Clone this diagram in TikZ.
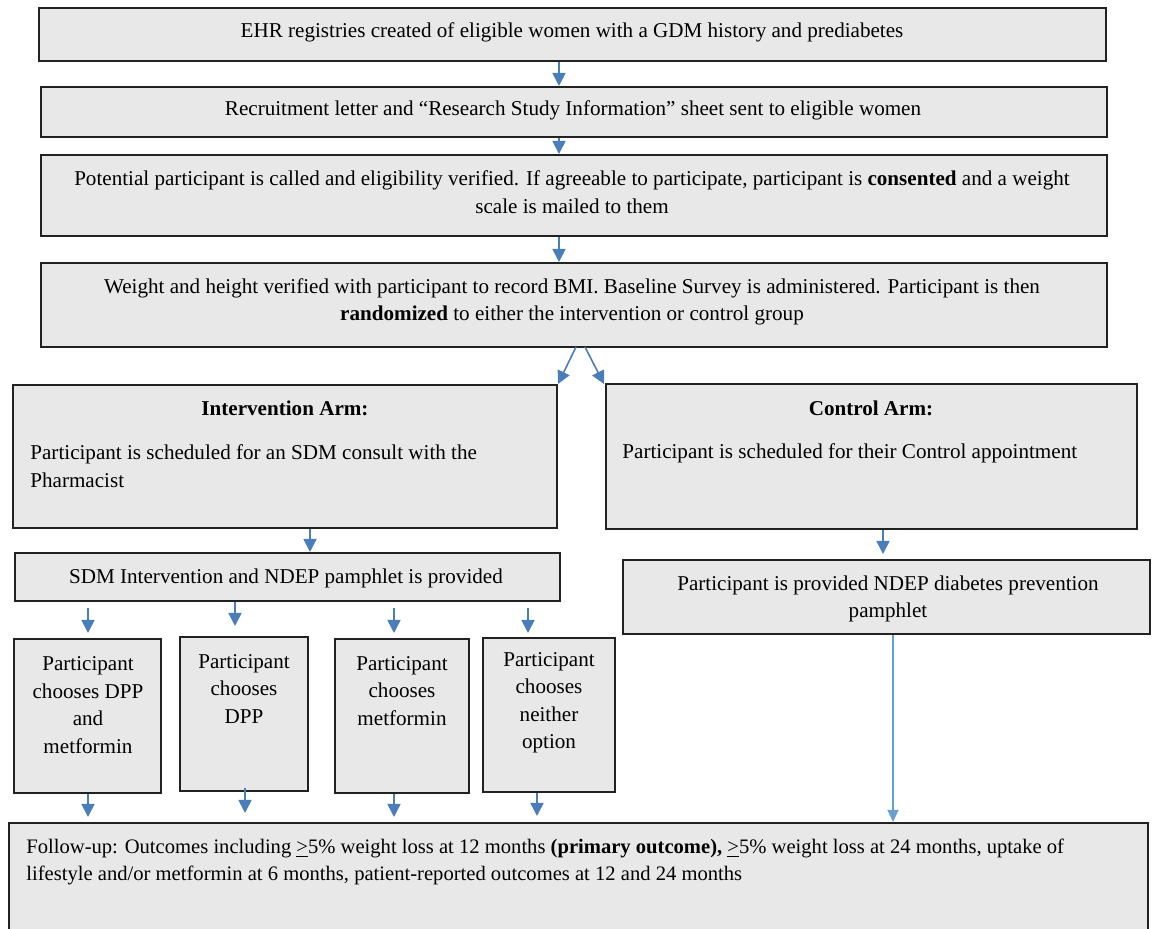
\documentclass[tikz,border=0pt]{standalone}
\usepackage{fontspec}
\setmainfont{Liberation Serif}
\usetikzlibrary{arrows.meta,fit}
\definecolor{boxfill}{HTML}{E8E8E8}
\definecolor{boxline}{HTML}{222222}
\definecolor{arrblue}{HTML}{4A7EBB}
\definecolor{lineblue}{HTML}{6A9FD4}
\begin{document}
\begin{tikzpicture}[x=0.5pt,y=-0.5pt,
  box/.style={draw=boxline, line width=1pt, fill=boxfill, inner sep=0pt},
  txt/.style={inner sep=0pt, align=center, font=\fontsize{10.55}{13.75}\selectfont},
  ltxt/.style={inner sep=0pt, align=left, anchor=west, font=\fontsize{10.55}{14}\selectfont},
  futxt/.style={inner sep=0pt, align=left, anchor=west, font=\fontsize{10.3}{13.5}\selectfont},
  arr/.style={draw=arrblue, line width=0.8pt, -{Triangle[length=6.5pt,width=6.5pt]}},
  thinarr/.style={draw=lineblue, line width=0.6pt, -{Triangle[length=6pt,width=5.5pt]}}]
\clip (0,0) rectangle (1153,929);
\fill[white] (0,0) rectangle (1153,929);
% boxes
\node[box, fit={(39,8) (1106,61)}] (b1) {};
\node[box, fit={(41,87) (1107,137)}] (b2) {};
\node[box, fit={(41,155) (1107,236)}] (b3) {};
\node[box, fit={(41,263) (1107,347)}] (b4) {};
\node[box, fit={(13,385) (557,528)}] (int) {};
\node[box, fit={(606,384) (1137,529)}] (ctl) {};
\node[box, fit={(15,553) (560,601)}] (sdm) {};
\node[box, fit={(623,560) (1150,634)}] (ndep) {};
\node[box, fit={(14,639) (161,793)}] (ca) {};
\node[box, fit={(180,637) (308,791)}] (cb) {};
\node[box, fit={(335,639) (469,793)}] (cc) {};
\node[box, fit={(483,638) (615,792)}] (cd) {};
\node[box, fit={(9,823) (1148,945)}] (fu) {};
% texts
\node[txt] (t1) at (572,32) {EHR registries created of eligible women with a GDM history and prediabetes};
\node[txt] (t2) at (573,110) {Recruitment letter and “Research Study Information” sheet sent to eligible women};
\node[txt] (t3) at (572,192) {Potential participant is called and eligibility verified. If agreeable to participate, participant is \textbf{consented} and a weight\\ scale is mailed to them};
\node[txt] (t4) at (572,302) {Weight and height verified with participant to record BMI. Baseline Survey is administered. Participant is then\\ \textbf{randomized} to either the intervention or control group};
\node[txt] (ti) at (285,408) {\textbf{Intervention Arm:}};
\node[ltxt] (tib) at (30,466) {Participant is scheduled for an SDM consult with the\\ Pharmacist};
\node[txt] (tc) at (871,408) {\textbf{Control Arm:}};
\node[ltxt] (tcb) at (622,453) {Participant is scheduled for their Control appointment};
\node[txt] (tsdm) at (286,578) {SDM Intervention and NDEP pamphlet is provided};
\node[txt] (tndep) at (888,599) {Participant is provided NDEP diabetes prevention\\ pamphlet};
\node[txt] (tca) at (88,705) {Participant\\ chooses DPP\\ and\\ metformin};
\node[txt] (tcb2) at (244,689) {Participant\\ chooses\\ DPP};
\node[txt] (tcc) at (402,691) {Participant\\ chooses\\ metformin};
\node[txt] (tcd) at (549,703) {Participant\\ chooses\\ neither\\ option};
\node[futxt] (tfu) at (26,862) {Follow-up: Outcomes including \underline{>}5\% weight loss at 12 months \textbf{(primary outcome),} \underline{>}5\% weight loss at 24 months, uptake of\\ lifestyle and/or metformin at 6 months, patient-reported outcomes at 12 and 24 months};
% coordinates
\coordinate (x559) at (559,0);
\coordinate (x310) at (310,0);
\coordinate (x883) at (883,0);
\coordinate (x893) at (893,0);
\coordinate (s1a) at (576,347); \coordinate (e1a) at (558,384);
\coordinate (s1b) at (585,347); \coordinate (e1b) at (604,384);
\coordinate (ndepin) at (883,554);
\coordinate (sa) at (88,608);  \coordinate (ea) at (88,633);
\coordinate (eb) at (235,626);
\coordinate (sc) at (394,608); \coordinate (ec) at (394,633);
\coordinate (sd) at (528,608); \coordinate (ed) at (528,633);
\coordinate (fa) at (88,817);
\coordinate (sb2) at (245,788); \coordinate (fb) at (245,813);
\coordinate (fc) at (394,817);
\coordinate (fd) at (537,816);
% connectors
\draw[arr] (x559 |- b1.south) -- (x559 |- b2.north);
\draw[arr] (x559 |- b2.south) -- (x559 |- b3.north);
\draw[arr] (x559 |- b3.south) -- (x559 |- b4.north);
\draw[arr] (s1a) -- (e1a);
\draw[arr] (s1b) -- (e1b);
\draw[arr] (x310 |- int.south) -- (x310 |- sdm.north);
\draw[arr] (x883 |- ctl.south) -- (ndepin);
\draw[arr] (sa) -- (ea);
\draw[arr] (eb |- sdm.south) -- (eb);
\draw[arr] (sc) -- (ec);
\draw[arr] (sd) -- (ed);
\draw[arr] (fa |- ca.south) -- (fa);
\draw[arr] (sb2) -- (fb);
\draw[arr] (fc |- cc.south) -- (fc);
\draw[arr] (fd |- cd.south) -- (fd);
\draw[thinarr] (x893 |- ndep.south) -- (x893 |- fu.north);
\end{tikzpicture}
\end{document}
